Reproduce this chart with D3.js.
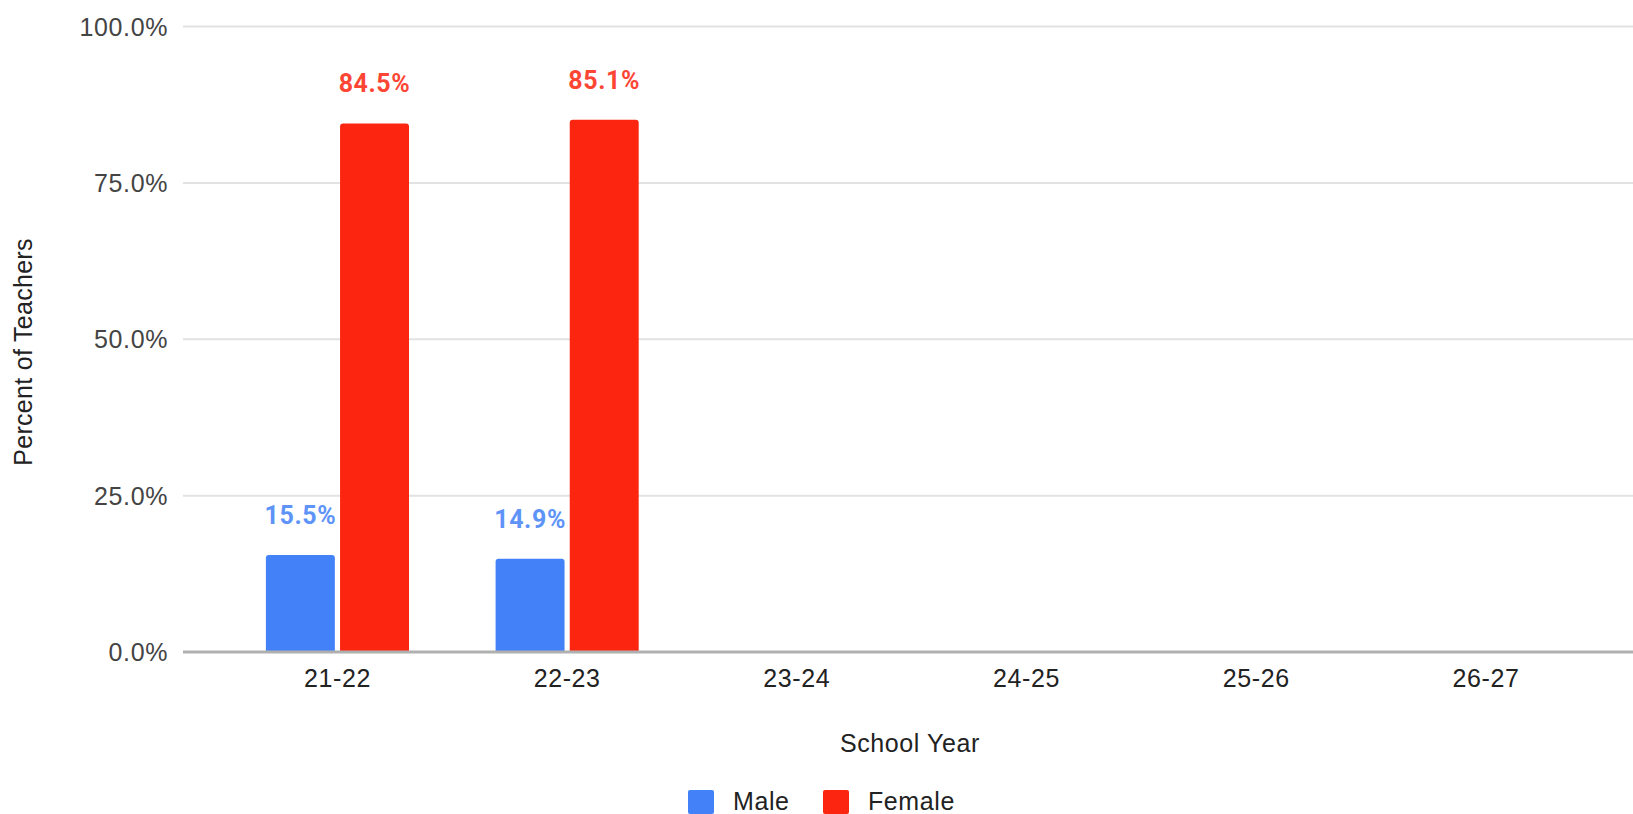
<!DOCTYPE html>
<html>
<head>
<meta charset="utf-8">
<script src="https://cdn.jsdelivr.net/npm/d3@7"></script>
<style>
  body { margin: 0; background: #fff; }
  svg { display: block; font-family: "Liberation Sans", Arial, sans-serif; }
</style>
</head>
<body>
<svg id="chart"></svg>
<script>
const years = ["21-22", "22-23", "23-24", "24-25", "25-26", "26-27"];
const series = ["Male", "Female"];
const maleValues = [15.5, 14.9, null, null, null, null];
const femaleValues = [84.5, 85.1, null, null, null, null];
const yTicks = [0, 25, 50, 75, 100];
const colors = ["#4281f7", "#fc2610"];

const width = 1633;
const height = 814;

const svg = d3.select("#chart")
    .attr("width", width)
    .attr("height", height);

const plot = { left: 183, right: 1633, top: 26.5, bottom: 652 };

const y = d3.scaleLinear()
    .domain([0, 100])
    .range([plot.bottom, plot.top]);

const x0 = d3.scaleBand()
    .domain(years)
    .range([222.6, 1600.8])
    .paddingInner(0.377)
    .paddingOuter(0.1885);

const x1 = d3.scaleBand()
    .domain(series)
    .range([0, x0.bandwidth()])
    .paddingInner(0.07);

const color = d3.scaleOrdinal().domain(series).range(colors);

const data = years.map((yr, i) => ({
    year: yr,
    values: [
        { key: "Male", value: maleValues[i] },
        { key: "Female", value: femaleValues[i] }
    ]
}));

// gridlines
svg.append("g")
    .selectAll("line")
    .data(yTicks.filter(d => d > 0))
    .join("line")
    .attr("x1", plot.left)
    .attr("x2", plot.right)
    .attr("y1", d => y(d))
    .attr("y2", d => y(d))
    .attr("stroke", "#e2e2e2")
    .attr("stroke-width", 2);

// y tick labels
svg.append("g")
    .selectAll("text")
    .data(yTicks)
    .join("text")
    .attr("x", 168)
    .attr("y", d => y(d) + 9)
    .attr("text-anchor", "end")
    .attr("font-size", 25)
    .attr("letter-spacing", 0.6)
    .attr("fill", "#444")
    .text(d => d.toFixed(1) + "%");

// bars
const groups = svg.append("g")
    .selectAll("g")
    .data(data)
    .join("g")
    .attr("transform", d => `translate(${x0(d.year)},0)`);

groups.selectAll("path")
    .data(d => d.values.filter(v => v.value != null))
    .join("path")
    .attr("fill", d => color(d.key))
    .attr("d", d => {
        const bx = x1(d.key), bw = x1.bandwidth();
        const top = y(d.value), bot = y(0), r = 3;
        return `M${bx},${bot}V${top + r}Q${bx},${top} ${bx + r},${top}H${bx + bw - r}Q${bx + bw},${top} ${bx + bw},${top + r}V${bot}Z`;
    });

groups.selectAll("text")
    .data(d => d.values.filter(v => v.value != null))
    .join("text")
    .attr("x", d => x1(d.key) + x1.bandwidth() / 2)
    .attr("y", d => y(d.value) - 31)
    .attr("text-anchor", "middle")
    .attr("font-family", "Roboto, sans-serif")
    .attr("font-weight", "bold")
    .attr("font-size", 25)
    .attr("letter-spacing", 0.6)
    .attr("fill", d => color(d.key))
    .attr("opacity", 0.85)
    .text(d => d.value.toFixed(1) + "%");

// baseline
svg.append("line")
    .attr("x1", plot.left)
    .attr("x2", plot.right)
    .attr("y1", y(0))
    .attr("y2", y(0))
    .attr("stroke", "#b0b0b0")
    .attr("stroke-width", 3);

// x tick labels
svg.append("g")
    .selectAll("text")
    .data(years)
    .join("text")
    .attr("x", d => x0(d) + x0.bandwidth() / 2)
    .attr("y", 687)
    .attr("text-anchor", "middle")
    .attr("font-size", 25)
    .attr("letter-spacing", 0.6)
    .attr("fill", "#222")
    .text(d => d);

// axis titles
svg.append("text")
    .attr("x", 910)
    .attr("y", 752)
    .attr("text-anchor", "middle")
    .attr("font-size", 25)
    .attr("letter-spacing", 0.6)
    .attr("fill", "#222")
    .text("School Year");

svg.append("text")
    .attr("transform", "translate(32,352) rotate(-90)")
    .attr("text-anchor", "middle")
    .attr("font-size", 25)
    .attr("letter-spacing", 0.3)
    .attr("fill", "#222")
    .text("Percent of Teachers");

// legend
const legendItems = [
    { key: "Male", x: 688, tx: 733 },
    { key: "Female", x: 823, tx: 868 }
];
const legend = svg.append("g");
legend.selectAll("rect")
    .data(legendItems)
    .join("rect")
    .attr("x", d => d.x)
    .attr("y", 790)
    .attr("width", 26)
    .attr("height", 24)
    .attr("rx", 2)
    .attr("fill", d => color(d.key));
legend.selectAll("text")
    .data(legendItems)
    .join("text")
    .attr("x", d => d.tx)
    .attr("y", 810)
    .attr("font-size", 25)
    .attr("letter-spacing", 0.6)
    .attr("fill", "#222")
    .text(d => d.key);
</script>
</body>
</html>
